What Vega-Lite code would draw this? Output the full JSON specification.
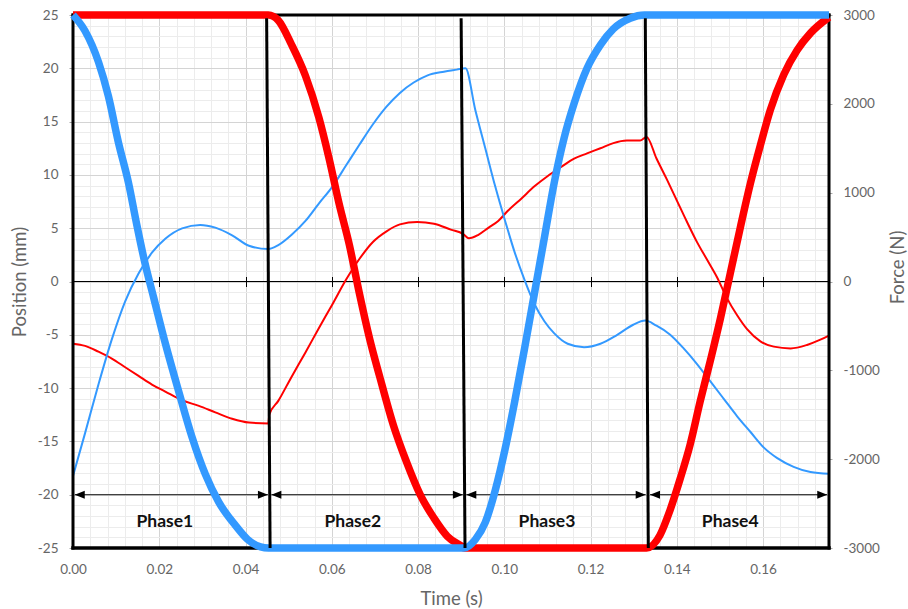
{
  "$schema": "https://vega.github.io/schema/vega-lite/v6.json",
  "width": 756,
  "height": 533,
  "autosize": {"type": "none"},
  "padding": {"left": 73, "top": 15, "right": 79, "bottom": 61},
  "background": "white",
  "config": {
    "view": {"stroke": null},
    "locale": {"number": {"decimal": ".", "thousands": ",", "grouping": [3], "currency": ["$", ""], "minus": "-"}},
    "axis": {"labelFont": "Lato", "titleFont": "Lato", "labelColor": "#666666", "titleColor": "#666666", "labelFontSize": 13.5, "titleFontSize": 18.5, "titleFontWeight": "normal", "labelFlush": false}
  },
  "datasets": {
    "posBlue": [
      {"t": 0, "pos": 25}, {"t": 0.0028, "pos": 23.5}, {"t": 0.0059, "pos": 20.6}, {"t": 0.0082, "pos": 17.4},
      {"t": 0.0105, "pos": 13.1}, {"t": 0.0129, "pos": 9.2}, {"t": 0.0148, "pos": 5.3}, {"t": 0.0167, "pos": 1.7},
      {"t": 0.0187, "pos": -1.5}, {"t": 0.0214, "pos": -5.8}, {"t": 0.0245, "pos": -10.3}, {"t": 0.0276, "pos": -14.6},
      {"t": 0.0307, "pos": -18.1}, {"t": 0.0338, "pos": -20.7}, {"t": 0.0377, "pos": -22.9}, {"t": 0.0405, "pos": -24.2},
      {"t": 0.0435, "pos": -24.9}, {"t": 0.0453, "pos": -25}, {"t": 0.0907, "pos": -25}, {"t": 0.0933, "pos": -24.2},
      {"t": 0.0956, "pos": -22.6}, {"t": 0.0979, "pos": -19.6}, {"t": 0.1002, "pos": -15.7}, {"t": 0.1024, "pos": -11.3},
      {"t": 0.1047, "pos": -6.3}, {"t": 0.107, "pos": -1.1}, {"t": 0.1093, "pos": 4.1}, {"t": 0.1116, "pos": 9.3},
      {"t": 0.1139, "pos": 13.5}, {"t": 0.1162, "pos": 16.7}, {"t": 0.1192, "pos": 20.0}, {"t": 0.1223, "pos": 22.2},
      {"t": 0.1253, "pos": 23.7}, {"t": 0.1292, "pos": 24.7}, {"t": 0.1325, "pos": 25}, {"t": 0.1753, "pos": 25}
    ],
    "posRed": [
      {"t": 0, "pos": 25}, {"t": 0.0453, "pos": 25}, {"t": 0.0476, "pos": 24.5}, {"t": 0.0507, "pos": 22.2},
      {"t": 0.0539, "pos": 19.3}, {"t": 0.057, "pos": 15.4}, {"t": 0.0594, "pos": 11.5}, {"t": 0.0617, "pos": 7.3},
      {"t": 0.0641, "pos": 3.4}, {"t": 0.0664, "pos": -1.1}, {"t": 0.0688, "pos": -5.4}, {"t": 0.0711, "pos": -8.9},
      {"t": 0.0743, "pos": -13.5}, {"t": 0.0774, "pos": -17.0}, {"t": 0.0805, "pos": -20.0}, {"t": 0.0837, "pos": -22.2},
      {"t": 0.0868, "pos": -23.9}, {"t": 0.09, "pos": -24.8}, {"t": 0.0907, "pos": -25}, {"t": 0.133, "pos": -25},
      {"t": 0.1361, "pos": -23.8}, {"t": 0.1384, "pos": -21.5}, {"t": 0.1408, "pos": -18.5}, {"t": 0.1431, "pos": -15.3},
      {"t": 0.1454, "pos": -11.3}, {"t": 0.1478, "pos": -7.4}, {"t": 0.1501, "pos": -3.5}, {"t": 0.1524, "pos": 0.75},
      {"t": 0.1547, "pos": 5.0}, {"t": 0.1571, "pos": 9.25}, {"t": 0.1594, "pos": 12.8}, {"t": 0.1617, "pos": 16.1},
      {"t": 0.1648, "pos": 19.4}, {"t": 0.1679, "pos": 21.7}, {"t": 0.171, "pos": 23.3}, {"t": 0.1753, "pos": 24.8}
    ],
    "forceBlue": [
      {"t": 0, "force": -2190}, {"t": 0.0028, "force": -1707}, {"t": 0.0059, "force": -1160}, {"t": 0.009, "force": -652},
      {"t": 0.0121, "force": -223}, {"t": 0.0152, "force": 90}, {"t": 0.0183, "force": 324}, {"t": 0.0214, "force": 481},
      {"t": 0.0253, "force": 598}, {"t": 0.0295, "force": 637}, {"t": 0.033, "force": 606}, {"t": 0.0369, "force": 520},
      {"t": 0.0408, "force": 403}, {"t": 0.0453, "force": 365}, {"t": 0.0476, "force": 409}, {"t": 0.0507, "force": 526},
      {"t": 0.0539, "force": 682}, {"t": 0.057, "force": 877}, {"t": 0.0602, "force": 1071}, {"t": 0.0633, "force": 1305},
      {"t": 0.0664, "force": 1539}, {"t": 0.0696, "force": 1773}, {"t": 0.0727, "force": 1968}, {"t": 0.0758, "force": 2123},
      {"t": 0.079, "force": 2240}, {"t": 0.0821, "force": 2318}, {"t": 0.086, "force": 2362}, {"t": 0.089, "force": 2385},
      {"t": 0.091, "force": 2400}, {"t": 0.0933, "force": 1929}, {"t": 0.0956, "force": 1500}, {"t": 0.0979, "force": 1071},
      {"t": 0.1002, "force": 682}, {"t": 0.1024, "force": 331}, {"t": 0.1047, "force": 19}, {"t": 0.107, "force": -253},
      {"t": 0.1093, "force": -448}, {"t": 0.1116, "force": -584}, {"t": 0.1147, "force": -701}, {"t": 0.1185, "force": -740},
      {"t": 0.1223, "force": -701}, {"t": 0.1261, "force": -604}, {"t": 0.1299, "force": -487}, {"t": 0.1327, "force": -440},
      {"t": 0.1353, "force": -498}, {"t": 0.1384, "force": -596}, {"t": 0.1416, "force": -753}, {"t": 0.1447, "force": -929},
      {"t": 0.1478, "force": -1125}, {"t": 0.1509, "force": -1321}, {"t": 0.154, "force": -1517}, {"t": 0.1571, "force": -1694},
      {"t": 0.1602, "force": -1870}, {"t": 0.1633, "force": -1988}, {"t": 0.1671, "force": -2086}, {"t": 0.171, "force": -2145},
      {"t": 0.1753, "force": -2165}
    ],
    "forceRed": [
      {"t": 0, "force": -700}, {"t": 0.0028, "force": -725}, {"t": 0.0059, "force": -790}, {"t": 0.009, "force": -867},
      {"t": 0.0121, "force": -965}, {"t": 0.0152, "force": -1063}, {"t": 0.0183, "force": -1160}, {"t": 0.0214, "force": -1239},
      {"t": 0.0253, "force": -1337}, {"t": 0.0292, "force": -1400}, {"t": 0.033, "force": -1473}, {"t": 0.0369, "force": -1545},
      {"t": 0.0408, "force": -1588}, {"t": 0.0453, "force": -1598}, {"t": 0.0455, "force": -1500}, {"t": 0.0476, "force": -1344},
      {"t": 0.0507, "force": -1071}, {"t": 0.0539, "force": -799}, {"t": 0.057, "force": -526}, {"t": 0.0602, "force": -253},
      {"t": 0.0633, "force": 19}, {"t": 0.0664, "force": 253}, {"t": 0.0696, "force": 448}, {"t": 0.0727, "force": 565},
      {"t": 0.0758, "force": 643}, {"t": 0.0798, "force": 670}, {"t": 0.0837, "force": 650}, {"t": 0.0876, "force": 584},
      {"t": 0.0905, "force": 534}, {"t": 0.0918, "force": 487}, {"t": 0.094, "force": 526}, {"t": 0.0963, "force": 604},
      {"t": 0.0986, "force": 682}, {"t": 0.1009, "force": 799}, {"t": 0.104, "force": 935}, {"t": 0.107, "force": 1071},
      {"t": 0.1101, "force": 1188}, {"t": 0.1131, "force": 1286}, {"t": 0.1162, "force": 1383}, {"t": 0.1192, "force": 1442},
      {"t": 0.1223, "force": 1500}, {"t": 0.1253, "force": 1558}, {"t": 0.1284, "force": 1586}, {"t": 0.1315, "force": 1586},
      {"t": 0.133, "force": 1627}, {"t": 0.1353, "force": 1384}, {"t": 0.1377, "force": 1149}, {"t": 0.14, "force": 914},
      {"t": 0.1423, "force": 678}, {"t": 0.1447, "force": 443}, {"t": 0.147, "force": 247}, {"t": 0.1493, "force": 51},
      {"t": 0.1516, "force": -184}, {"t": 0.154, "force": -380}, {"t": 0.1563, "force": -537}, {"t": 0.1594, "force": -674},
      {"t": 0.1625, "force": -733}, {"t": 0.1664, "force": -753}, {"t": 0.1702, "force": -714}, {"t": 0.1733, "force": -655},
      {"t": 0.1753, "force": -608}
    ],
    "phases": [
      {"phase": "Phase1", "start": 0.0004, "end": 0.0452, "labelT": 0.0213},
      {"phase": "Phase2", "start": 0.046, "end": 0.0904, "labelT": 0.0649},
      {"phase": "Phase3", "start": 0.0912, "end": 0.1328, "labelT": 0.1099},
      {"phase": "Phase4", "start": 0.1338, "end": 0.1749, "labelT": 0.1524}
    ],
    "bounds": [
      {"top": 0.0449, "bottom": 0.0457},
      {"top": 0.09, "bottom": 0.0909},
      {"top": 0.1327, "bottom": 0.1334}
    ],
    "frame": [{}]
  },
  "resolve": {"scale": {"y": "independent"}, "axis": {"x": "independent", "y": "independent"}},
  "layer": [
    {
      "data": {"name": "posBlue"},
      "mark": {"type": "line", "opacity": 0},
      "encoding": {
        "x": {"field": "t", "type": "quantitative", "scale": {"domain": [0, 0.1753], "nice": false, "zero": false},
          "axis": {"orient": "top", "grid": true, "gridColor": "#ececec", "labels": false, "ticks": false, "domain": false, "title": null,
            "values": [0.004, 0.008, 0.012, 0.016, 0.024, 0.028, 0.032, 0.036, 0.044, 0.048, 0.052, 0.056, 0.064, 0.068, 0.072, 0.076, 0.084, 0.088, 0.092, 0.096, 0.104, 0.108, 0.112, 0.116, 0.124, 0.128, 0.132, 0.136, 0.144, 0.148, 0.152, 0.156, 0.164, 0.168, 0.172]}},
        "y": {"field": "pos", "type": "quantitative", "scale": {"domain": [-25, 25], "nice": false, "zero": false},
          "axis": {"orient": "left", "grid": true, "gridColor": "#ececec", "labels": false, "ticks": false, "domain": false, "title": null,
            "values": [-24, -23, -22, -21, -19, -18, -17, -16, -14, -13, -12, -11, -9, -8, -7, -6, -4, -3, -2, -1, 1, 2, 3, 4, 6, 7, 8, 9, 11, 12, 13, 14, 16, 17, 18, 19, 21, 22, 23, 24]}}
      }
    },
    {
      "data": {"name": "posBlue"},
      "mark": {"type": "line", "opacity": 0},
      "encoding": {
        "x": {"field": "t", "type": "quantitative", "scale": {"domain": [0, 0.1753], "nice": false, "zero": false},
          "axis": {"orient": "bottom", "grid": true, "gridColor": "#d4d4d4", "ticks": false, "tickSize": 0, "domain": false, "format": ".2f",
            "values": [0, 0.02, 0.04, 0.06, 0.08, 0.1, 0.12, 0.14, 0.16], "labelPadding": 14, "title": "Time (s)", "titlePadding": 14}},
        "y": {"field": "pos", "type": "quantitative", "scale": {"domain": [-25, 25], "nice": false, "zero": false},
          "axis": {"orient": "left", "grid": true, "gridColor": "#d4d4d4", "ticks": true, "tickSize": 4, "tickColor": "#a6a6a6", "domain": false,
            "values": [-25, -20, -15, -10, -5, 0, 5, 10, 15, 20, 25], "labelPadding": 11, "title": "Position (mm)", "titlePadding": 8}}
      }
    },
    {
      "data": {"name": "frame"},
      "mark": {"type": "rule", "color": "black", "strokeWidth": 1},
      "encoding": {
        "x": {"datum": 0, "type": "quantitative", "scale": {"domain": [0, 0.1753], "nice": false, "zero": false},
          "axis": {"orient": "bottom", "offset": -271.5, "grid": false, "labels": false, "domain": false, "ticks": true, "tickSize": 10, "tickColor": "black", "tickWidth": 1, "title": null,
            "values": [0, 0.02, 0.04, 0.06, 0.08, 0.1, 0.12, 0.14, 0.16]}},
        "x2": {"datum": 0.1753},
        "y": {"datum": 0, "type": "quantitative", "scale": {"domain": [-25, 25], "nice": false, "zero": false}, "axis": null}
      }
    },
    {
      "data": {"name": "forceRed"},
      "mark": {"type": "line", "color": "#ff0000", "strokeWidth": 2, "interpolate": "monotone"},
      "encoding": {
        "x": {"field": "t", "type": "quantitative", "scale": {"domain": [0, 0.1753], "nice": false, "zero": false}, "axis": null},
        "y": {"field": "force", "type": "quantitative", "scale": {"domain": [-3000, 3000], "nice": false, "zero": false},
          "axis": {"orient": "right", "grid": false, "domain": false, "ticks": true, "tickSize": 3, "tickColor": "#a6a6a6", "format": "d",
            "values": [-3000, -2000, -1000, 0, 1000, 2000, 3000], "labelPadding": 11, "title": "Force (N)", "titleAngle": -90, "titlePadding": 28, "titleY": 252}}
      }
    },
    {
      "data": {"name": "forceBlue"},
      "mark": {"type": "line", "color": "#3399ff", "strokeWidth": 2, "interpolate": "monotone"},
      "encoding": {
        "x": {"field": "t", "type": "quantitative", "scale": {"domain": [0, 0.1753], "nice": false, "zero": false}, "axis": null},
        "y": {"field": "force", "type": "quantitative", "scale": {"domain": [-3000, 3000], "nice": false, "zero": false}, "axis": null}
      }
    },
    {
      "data": {"name": "frame"},
      "mark": {"type": "rule", "color": "black", "strokeWidth": 3, "strokeCap": "square"},
      "encoding": {
        "x": {"datum": 0, "type": "quantitative", "scale": {"domain": [0, 0.1753], "nice": false, "zero": false}, "axis": null},
        "y": {"datum": 25, "type": "quantitative", "scale": {"domain": [-25, 25], "nice": false, "zero": false}, "axis": null},
        "y2": {"datum": -25}
      }
    },
    {
      "data": {"name": "frame"},
      "mark": {"type": "rule", "color": "black", "strokeWidth": 3, "strokeCap": "square"},
      "encoding": {
        "x": {"datum": 0.1753, "type": "quantitative", "scale": {"domain": [0, 0.1753], "nice": false, "zero": false}, "axis": null},
        "y": {"datum": 25, "type": "quantitative", "scale": {"domain": [-25, 25], "nice": false, "zero": false}, "axis": null},
        "y2": {"datum": -25}
      }
    },
    {
      "data": {"name": "frame"},
      "mark": {"type": "rule", "color": "black", "strokeWidth": 3, "strokeCap": "square"},
      "encoding": {
        "x": {"datum": 0, "type": "quantitative", "scale": {"domain": [0, 0.1753], "nice": false, "zero": false}, "axis": null},
        "x2": {"datum": 0.1753},
        "y": {"datum": 25, "type": "quantitative", "scale": {"domain": [-25, 25], "nice": false, "zero": false}, "axis": null}
      }
    },
    {
      "data": {"name": "frame"},
      "mark": {"type": "rule", "color": "black", "strokeWidth": 3.5, "strokeCap": "square"},
      "encoding": {
        "x": {"datum": 0, "type": "quantitative", "scale": {"domain": [0, 0.1753], "nice": false, "zero": false}, "axis": null},
        "x2": {"datum": 0.1753},
        "y": {"datum": -25, "type": "quantitative", "scale": {"domain": [-25, 25], "nice": false, "zero": false}, "axis": null}
      }
    },
    {
      "data": {"name": "phases"},
      "mark": {"type": "rule", "color": "#404040", "strokeWidth": 1.2},
      "encoding": {
        "x": {"field": "start", "type": "quantitative", "scale": {"domain": [0, 0.1753], "nice": false, "zero": false}, "axis": null},
        "x2": {"field": "end"},
        "y": {"datum": -20, "type": "quantitative", "scale": {"domain": [-25, 25], "nice": false, "zero": false}, "axis": null}
      }
    },
    {
      "data": {"name": "phases"},
      "mark": {"type": "point", "filled": true, "color": "black", "opacity": 1, "size": 400, "shape": "M0,0 L1,-0.4 L1,0.4 Z"},
      "encoding": {
        "x": {"field": "start", "type": "quantitative", "scale": {"domain": [0, 0.1753], "nice": false, "zero": false}, "axis": null},
        "y": {"datum": -20, "type": "quantitative", "scale": {"domain": [-25, 25], "nice": false, "zero": false}, "axis": null}
      }
    },
    {
      "data": {"name": "phases"},
      "mark": {"type": "point", "filled": true, "color": "black", "opacity": 1, "size": 400, "shape": "M0,0 L-1,-0.4 L-1,0.4 Z"},
      "encoding": {
        "x": {"field": "end", "type": "quantitative", "scale": {"domain": [0, 0.1753], "nice": false, "zero": false}, "axis": null},
        "y": {"datum": -20, "type": "quantitative", "scale": {"domain": [-25, 25], "nice": false, "zero": false}, "axis": null}
      }
    },
    {
      "data": {"name": "posRed"},
      "mark": {"type": "line", "color": "#ff0000", "strokeWidth": 7.5, "interpolate": "monotone", "strokeJoin": "round"},
      "encoding": {
        "x": {"field": "t", "type": "quantitative", "scale": {"domain": [0, 0.1753], "nice": false, "zero": false}, "axis": null},
        "y": {"field": "pos", "type": "quantitative", "scale": {"domain": [-25, 25], "nice": false, "zero": false}, "axis": null}
      }
    },
    {
      "data": {"name": "posBlue"},
      "mark": {"type": "line", "color": "#3399ff", "strokeWidth": 7.5, "interpolate": "monotone", "strokeJoin": "round"},
      "encoding": {
        "x": {"field": "t", "type": "quantitative", "scale": {"domain": [0, 0.1753], "nice": false, "zero": false}, "axis": null},
        "y": {"field": "pos", "type": "quantitative", "scale": {"domain": [-25, 25], "nice": false, "zero": false}, "axis": null}
      }
    },
    {
      "data": {"name": "bounds"},
      "mark": {"type": "rule", "color": "black", "strokeWidth": 3},
      "encoding": {
        "x": {"field": "top", "type": "quantitative", "scale": {"domain": [0, 0.1753], "nice": false, "zero": false}, "axis": null},
        "x2": {"field": "bottom"},
        "y": {"datum": 24.7, "type": "quantitative", "scale": {"domain": [-25, 25], "nice": false, "zero": false}, "axis": null},
        "y2": {"datum": -25}
      }
    },
    {
      "data": {"name": "phases"},
      "mark": {"type": "text", "font": "Lato", "fontWeight": "bold", "fontSize": 17.5, "color": "#111111", "baseline": "middle", "align": "center"},
      "encoding": {
        "x": {"field": "labelT", "type": "quantitative", "scale": {"domain": [0, 0.1753], "nice": false, "zero": false}, "axis": null},
        "y": {"datum": -22.6, "type": "quantitative", "scale": {"domain": [-25, 25], "nice": false, "zero": false}, "axis": null},
        "text": {"field": "phase"}
      }
    }
  ]
}
